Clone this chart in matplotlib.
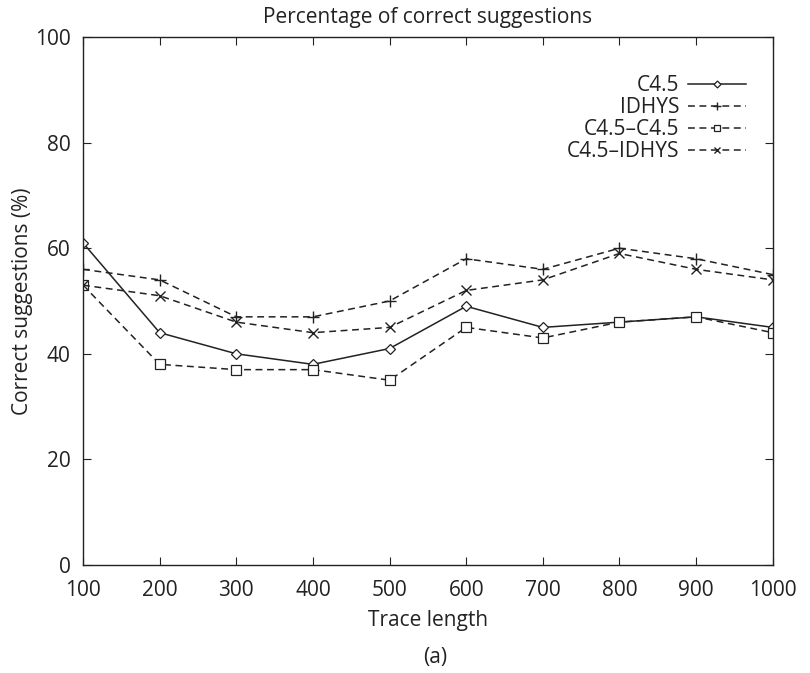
import matplotlib.pyplot as plt

trace_length = [100, 200, 300, 400, 500, 600, 700, 800, 900, 1000]
c45 = [61, 44, 40, 38, 41, 49, 45, 46, 47, 45]
idhys = [56, 54, 47, 47, 50, 58, 56, 60, 58, 55]
c45_c45 = [53, 38, 37, 37, 35, 45, 43, 46, 47, 44]
c45_idhys = [53, 51, 46, 44, 45, 52, 54, 59, 56, 54]

plt.rcParams['font.family'] = ['Open Sans', 'DejaVu Sans']

fig = plt.figure(figsize=(8.1, 6.73), dpi=100)
ax = fig.add_axes([0.1025, 0.1605, 0.8515, 0.7845])

dash = (0, (4.5, 3))
ax.plot(trace_length, c45, color='#222222', lw=1.1, marker='D', ms=5,
        mfc='white', mec='#222222', mew=0.9, label='C4.5')
ax.plot(trace_length, idhys, color='#222222', lw=1.1, ls=dash, marker='+', ms=9,
        mew=1.0, label='IDHYS')
ax.plot(trace_length, c45_c45, color='#222222', lw=1.1, ls=dash, marker='s', ms=6.5,
        mfc='white', mec='#222222', mew=0.9, label='C4.5\u2013C4.5')
ax.plot(trace_length, c45_idhys, color='#222222', lw=1.1, ls=dash, marker='x', ms=7,
        mew=1.0, label='C4.5\u2013IDHYS')

ax.set_xlim(100, 1000)
ax.set_ylim(0, 100)
ax.set_xticks(trace_length)
ax.set_yticks([0, 20, 40, 60, 80, 100])
ax.tick_params(direction='in', top=True, right=True, length=6, width=0.8,
               labelsize=15, colors='#222222')
ax.tick_params(axis='x', pad=11)
ax.tick_params(axis='y', pad=9)
for s in ax.spines.values():
    s.set_linewidth(1.0)
    s.set_color('#222222')

ax.set_xlabel('Trace length', fontsize=15, labelpad=6, color='#222222')
ax.set_ylabel('Correct suggestions (%)', fontsize=15, labelpad=1, color='#222222')
ax.set_title('Percentage of correct suggestions', fontsize=15, pad=10, color='#222222')
fig.text(0.5375, 0.015, '(a)', ha='center', fontsize=15, color='#222222')

leg = ax.legend(loc='upper right', frameon=False, markerfirst=False, fontsize=15,
                handlelength=2.8, handletextpad=0.4, labelspacing=0.05,
                markerscale=0.7, borderaxespad=0.6, bbox_to_anchor=(0.992, 0.967))
for t in leg.get_texts():
    t.set_ha('right')
    t.set_color('#222222')

fig.savefig('out.png', dpi=100)
